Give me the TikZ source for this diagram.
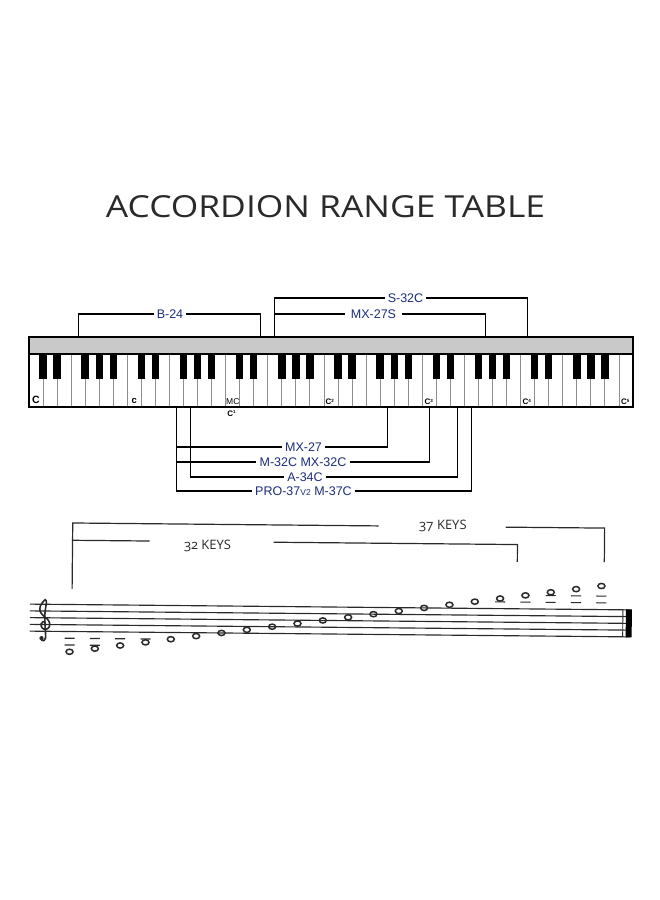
\documentclass[tikz,border=0pt]{standalone}
\usepackage{fontspec}
\setmainfont{Liberation Sans}
\newfontfamily\titlefont{Open Sans}
\newfontfamily\keysfont{Open Sans}[Numbers=OldStyle]
\definecolor{labelblue}{HTML}{1C2C7C}
\definecolor{bargray}{HTML}{C9C9C9}
\definecolor{divgray}{HTML}{8E8E8E}
\definecolor{inkgray}{HTML}{2A2A2A}
\newcommand{\supn}[1]{\raisebox{2.2pt}{\fontsize{4.5}{5}\selectfont #1}}
\begin{document}
\begin{tikzpicture}[x=1pt,y=-1pt,
  lbl/.style={fill=white,text=labelblue,font=\fontsize{12.5}{13}\selectfont,inner xsep=3pt,inner ysep=1pt},
  brk/.style={line width=1.3pt,draw=black,line join=miter},
  keylbl/.style={inner sep=0pt,font=\fontsize{8}{8}\selectfont\bfseries},
  staffln/.style={line width=1.15pt,draw=inkgray},
  bracketln/.style={line width=1.2pt,draw=inkgray},
  wnote/.style={line width=1.5pt,draw=inkgray},
  ledgerln/.style={line width=1.15pt,draw=inkgray},
  keystxt/.style={inner sep=0pt,text=inkgray,font=\keysfont\fontsize{13}{14}\selectfont}
]
\useasboundingbox (0,0) rectangle (660,900);
\fill[white] (0,0) rectangle (660,900);

% title
\node[anchor=south,inner sep=0pt,text=inkgray] (title) at (325.5,218.3)
  {\resizebox{439pt}{22pt}{\titlefont\fontsize{30}{32}\selectfont ACCORDION RANGE TABLE}};

% keyboard
\def\kw{14.0465}
\fill[bargray] (29,337) rectangle (633,354);
\foreach \i in {1,...,42} \draw[divgray,line width=0.9pt] ({29+\i*\kw},354) -- ({29+\i*\kw},407);
\foreach \o in {0,...,5} \foreach \b in {1,2,4,5,6}
  \fill[black] ({29+(7*\o+\b)*\kw-3.7},354) rectangle ++(7.4,25);
\draw[black,line width=1.2pt] (29,354) -- (633,354);
\draw[black,line width=1.5pt] (29,337) rectangle (633,407);

\foreach \i in {0,...,42} {
  \coordinate (kt\i) at ({29+(\i+0.5)*\kw},337);
  \coordinate (kb\i) at ({29+(\i+0.5)*\kw},407);
}

% key labels
\node[keylbl,anchor=base west,font=\fontsize{10.5}{11}\selectfont\bfseries] (nC) at (32,403.5) {C};
\node[keylbl,anchor=base west,font=\fontsize{9.5}{10}\selectfont\bfseries] (nc) at (131.5,403.5) {c};
\node[keylbl,anchor=base west,font=\fontsize{8.5}{9}\selectfont] (nMC) at (226,404.5) {MC};
\node[keylbl,anchor=base] (nc1) at (231.5,416) {C\supn{1}};
\node[keylbl,anchor=base west] (nc2) at (325.5,404.5) {C\supn{2}};
\node[keylbl,anchor=base west] (nc3) at (424.5,404.5) {C\supn{3}};
\node[keylbl,anchor=base west] (nc4) at (522.5,404.5) {C\supn{4}};
\node[keylbl,anchor=base west] (nc5) at (621,404.5) {C\supn{5}};

% upper ranges
\node[lbl] (b24) at (170,314) {B-24};
\node[lbl] (s32c) at (405.5,298) {S-32C};
\node[lbl,inner xsep=6pt] (mx27s) at (373.5,314) {MX-27S};
\draw[brk] (kt3) |- (b24.west);
\draw[brk] (b24.east) -| (kt16);
\draw[brk] (kt17) |- (s32c.west);
\draw[brk] (s32c.east) -| (kt35);
\draw[brk] (kt17) |- (mx27s.west);
\draw[brk] (mx27s.east) -| (kt32);

% lower ranges
\node[lbl] (mx27) at (303.5,447) {MX-27};
\node[lbl] (m32c) at (303,462) {M-32C MX-32C};
\node[lbl] (a34c) at (305,477) {A-34C};
\node[lbl] (pro37) at (303.5,491) {PRO-37{\fontsize{8.5}{9}\selectfont V2} M-37C};
\draw[brk] (kb10) |- (pro37.west);
\draw[brk] (pro37.east) -| (kb31);
\draw[brk] (kb10) |- (mx27.west);
\draw[brk] (mx27.east) -| (kb25);
\draw[brk] (kb10) |- (m32c.west);
\draw[brk] (m32c.east) -| (kb28);
\draw[brk] (kb11) |- (a34c.west);
\draw[brk] (a34c.east) -| (kb30);

% staff section
\begin{scope}[rotate around={-0.55:(330,600)}]
  % key-count brackets
  \coordinate (a37) at (72,591.5);
  \coordinate (t37l) at (72,525.5);
  \coordinate (g37l) at (378,525.5);
  \coordinate (g37r) at (505,525.5);
  \coordinate (t37r) at (604,525.5);
  \coordinate (e37) at (604,559.5);
  \coordinate (t32l) at (72,542.8);
  \coordinate (g32l) at (149,542.8);
  \coordinate (g32r) at (273,542.8);
  \coordinate (t32r) at (517,542.8);
  \coordinate (e32) at (517,560.2);
  \draw[bracketln] (a37) -- (t37l) -- (g37l);
  \draw[bracketln] (g37r) -- (t37r) -- (e37);
  \draw[bracketln] (t32l) -- (g32l);
  \draw[bracketln] (g32r) -- (t32r) -- (e32);
  \node[keystxt] (k37) at (442,524.6) {37 KEYS};
  \node[keystxt] (k32) at (207,547.5) {32 KEYS};

  % staff
  \foreach \j in {0,...,4} \draw[staffln] (30,{607+\j*6.75}) -- (630,{607+\j*6.75});
  \draw[inkgray,line width=0.9pt] (623,607) -- (623,634);
  \fill[black] (626,606.5) rectangle (632,634.5);

  % treble clef
  \begin{scope}[shift={(44,627.25)},x={(6.2pt,0pt)},y={(0pt,6.2pt)}]
    \draw[line width=1.6pt,inkgray,line cap=round] plot[smooth,tension=0.55] coordinates {
      (0.25,0.35) (-0.15,0.45) (-0.45,0.05) (-0.25,-0.55) (0.3,-0.8) (0.85,-0.45)
      (0.95,0.25) (0.55,0.9) (-0.1,1.45) (-0.6,2.1) (-0.6,2.9) (-0.2,3.6) (0.2,4.0)
      (0.4,3.6) (0.3,2.9) (0.15,1.5) (0.2,0) (0.3,-1.5) (0.3,-2.2) (0.05,-2.6) (-0.35,-2.5)};
    \fill[inkgray] (-0.35,-2.2) circle[radius=0.34];
  \end{scope}

  % notes
  \foreach \k in {1,...,22}
    \draw[wnote] ({70+(\k-1)*25.3},{634-(\k-7)*3.375}) ellipse [x radius=3.5, y radius=2.6];
  \foreach \k/\yy in {1/640.75,1/647.5,2/640.75,2/647.5,3/640.75,4/640.75,
                     18/600.25,19/600.25,20/600.25,20/593.5,21/600.25,21/593.5,22/600.25,22/593.5}
    \draw[ledgerln] ({70+(\k-1)*25.3-5},\yy) -- ++(10,0);
\end{scope}
\end{tikzpicture}
\end{document}
